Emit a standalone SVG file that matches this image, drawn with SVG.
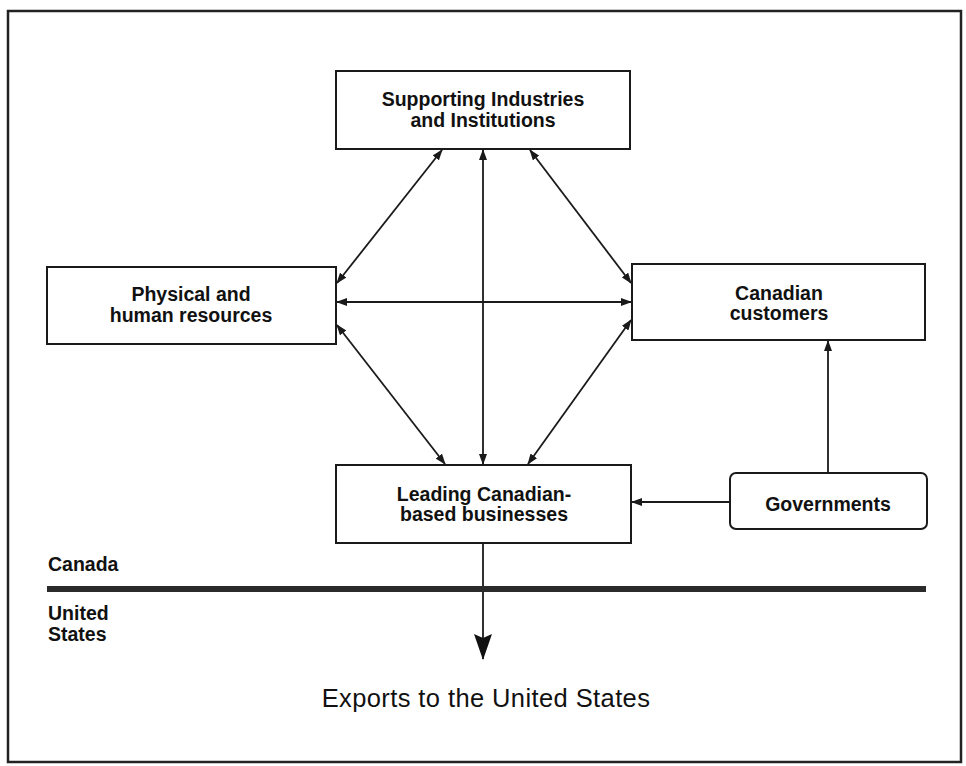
<svg xmlns="http://www.w3.org/2000/svg" width="966" height="766" viewBox="0 0 966 766">
<style>
.box{fill:#fff;stroke:#1a1a1a;stroke-width:2}
.lbl{font-family:"Liberation Sans",Arial,sans-serif;font-size:19.5px;font-weight:bold;fill:#111;text-anchor:middle}
.side{font-family:"Liberation Sans",Arial,sans-serif;font-size:19.5px;font-weight:bold;fill:#111}
.con{stroke:#1a1a1a;stroke-width:1.8;fill:none}
</style>
<defs>
<marker id="ah" markerUnits="userSpaceOnUse" markerWidth="11" markerHeight="8" refX="10" refY="4" orient="auto-start-reverse">
<path d="M0,0 L11,4 L0,8 Z" fill="#1a1a1a"/>
</marker>
<marker id="big" markerUnits="userSpaceOnUse" markerWidth="26" markerHeight="18" refX="25" refY="9" orient="auto" viewBox="0 0 26 18">
<path d="M0,0 L26,9 L0,18 L4,9 Z" fill="#111"/>
</marker>
</defs>
<rect x="0" y="0" width="966" height="766" fill="#fff"/>
<rect x="8" y="11" width="953" height="751" fill="none" stroke="#222" stroke-width="2.5"/>

<g id="connectors">
<line class="con" x1="483" y1="150" x2="483" y2="464" marker-start="url(#ah)" marker-end="url(#ah)"/>
<line class="con" x1="337" y1="302" x2="631" y2="302" marker-start="url(#ah)" marker-end="url(#ah)"/>
<line class="con" x1="442" y1="150" x2="337" y2="283" marker-start="url(#ah)" marker-end="url(#ah)"/>
<line class="con" x1="530" y1="150" x2="631" y2="283" marker-start="url(#ah)" marker-end="url(#ah)"/>
<line class="con" x1="337" y1="325" x2="445" y2="464" marker-start="url(#ah)" marker-end="url(#ah)"/>
<line class="con" x1="631" y1="320" x2="528" y2="464" marker-start="url(#ah)" marker-end="url(#ah)"/>
<line class="con" x1="828" y1="473" x2="828" y2="341" marker-end="url(#ah)"/>
<line class="con" x1="730" y1="502" x2="632" y2="502" marker-end="url(#ah)"/>
<line class="con" x1="483" y1="544" x2="483" y2="659" marker-end="url(#big)"/>
</g>

<g id="supporting">
<rect class="box" x="336" y="71" width="294" height="78"/>
<text class="lbl" x="483" y="106">Supporting Industries</text>
<text class="lbl" x="483" y="127">and Institutions</text>
</g>

<g id="physical">
<rect class="box" x="47" y="267" width="289" height="77"/>
<text class="lbl" x="191" y="301">Physical and</text>
<text class="lbl" x="191" y="322">human resources</text>
</g>

<g id="customers">
<rect class="box" x="632" y="264" width="293" height="76"/>
<text class="lbl" x="779" y="300">Canadian</text>
<text class="lbl" x="779" y="320">customers</text>
</g>

<g id="leading">
<rect class="box" x="336" y="465" width="295" height="78"/>
<text class="lbl" x="484" y="501">Leading Canadian-</text>
<text class="lbl" x="484" y="521">based businesses</text>
</g>

<g id="governments">
<rect class="box" x="730" y="473" width="197" height="56" rx="6" ry="6"/>
<text class="lbl" x="828" y="511">Governments</text>
</g>

<g id="border">
<rect x="47" y="586" width="879" height="6" fill="#2a2a2a"/>
<text class="side" x="48" y="571">Canada</text>
<text class="side" x="48" y="620">United</text>
<text class="side" x="48" y="641">States</text>
</g>

<g id="exports">
<text x="486" y="707" font-family="Liberation Sans, Arial, sans-serif" font-size="25.5" letter-spacing="0.4" fill="#111" text-anchor="middle">Exports to the United States</text>
</g>
</svg>
